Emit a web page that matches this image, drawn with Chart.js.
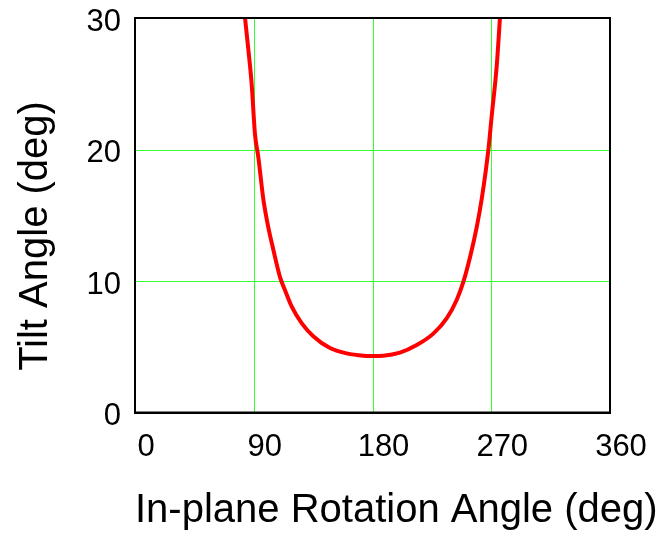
<!DOCTYPE html>
<html>
<head>
<meta charset="utf-8">
<script src="https://cdn.jsdelivr.net/npm/chart.js"></script>
<style>
  body { margin: 0; background: #fff; }
</style>
</head>
<body>
<canvas id="myChart" width="660" height="540"></canvas>
<script>
// in-plane rotation angle (deg)
const rotation = [83.4, 85.9, 88.4, 90.9, 93.5, 97.3, 101.0, 104.8, 109.9, 113.7, 118.8, 126.3, 135.1, 147.8, 160.4, 173.0, 180.0,
                  188.1, 200.8, 213.5, 226.1, 236.2, 243.8, 248.9, 254.0, 259.0, 262.8, 267.8, 270.3, 274.1, 276.6];
// tilt angle (deg)
const tilt = [30.0, 27.6, 25.0, 21.2, 19.4, 16.2, 14.1, 12.4, 10.3, 9.3, 8.05, 6.8, 5.8, 4.9, 4.5, 4.32, 4.3,
              4.32, 4.55, 5.13, 6.0, 7.16, 8.56, 9.95, 11.85, 14.1, 16.25, 19.96, 22.5, 26.3, 30.0];
const xTicks = [0, 90, 180, 270, 360];
const yTicks = [0, 10, 20, 30];

const xTitle = 'In-plane Rotation Angle (deg)';
const yTitle = 'Tilt Angle (deg)';

const points = rotation.map((r, i) => ({x: r, y: tilt[i]}));
const font = '"Liberation Sans", Arial, sans-serif';

// green grid, black frame round the plot and both axis titles
// (the scale title squeezes long text to the axis width, so draw them here)
const framePlugin = {
    id: 'frame',
    beforeDatasetsDraw(chart) {
        const {ctx, chartArea: a, scales: {x, y}} = chart;
        ctx.save();
        ctx.strokeStyle = '#33ff33';
        ctx.lineWidth = 1;
        ctx.beginPath();
        xTicks.slice(1, -1).forEach(v => {
            const px = Math.round(x.getPixelForValue(v)) + 0.5;
            ctx.moveTo(px, a.top);
            ctx.lineTo(px, a.bottom);
        });
        yTicks.slice(1, -1).forEach(v => {
            const py = Math.round(y.getPixelForValue(v)) + 0.5;
            ctx.moveTo(a.left, py);
            ctx.lineTo(a.right, py);
        });
        ctx.stroke();
        ctx.restore();
    },
    afterDraw(chart) {
        const {ctx, chartArea: a} = chart;
        ctx.save();
        ctx.strokeStyle = '#000';
        ctx.lineWidth = 2;
        ctx.strokeRect(a.left, a.top, a.right - a.left, a.bottom - a.top);

        ctx.fillStyle = '#000';
        ctx.font = '40px ' + font;
        ctx.textBaseline = 'alphabetic';
        ctx.textAlign = 'left';
        ctx.fillText(xTitle, a.left, 521.5);

        ctx.translate(47, 236);
        ctx.rotate(-Math.PI / 2);
        ctx.textAlign = 'center';
        ctx.fillText(yTitle, 0, 0);
        ctx.restore();
    }
};

const ctx = document.getElementById('myChart').getContext('2d');
const chart = new Chart(ctx, {
    type: 'scatter',
    data: {
        datasets: [{
            data: points,
            showLine: true,
            borderColor: '#ff0000',
            borderWidth: 4,
            pointRadius: 0,
            cubicInterpolationMode: 'monotone',
            clip: false
        }]
    },
    options: {
        responsive: false,
        animation: false,
        layout: { padding: {top: 18, right: 50, bottom: 0, left: 0} },
        plugins: {
            legend: { display: false },
            tooltip: { enabled: false }
        },
        scales: {
            x: {
                type: 'linear',
                min: 0,
                max: 360,
                afterBuildTicks: s => { s.ticks = xTicks.map(v => ({value: v})); },
                afterFit: s => { s.height = 127.5; },
                grid: { display: false },
                border: { color: '#000', width: 2 },
                ticks: {
                    color: '#000',
                    padding: 8,
                    labelOffset: 11,
                    font: { family: font, size: 31 }
                }
            },
            y: {
                type: 'linear',
                min: 0,
                max: 30,
                afterBuildTicks: s => { s.ticks = yTicks.map(v => ({value: v})); },
                afterFit: s => { s.width = 135; s.paddingTop = 0; s.paddingBottom = 0; },
                grid: { display: false },
                border: { color: '#000', width: 2 },
                ticks: {
                    color: '#000',
                    padding: 6,
                    labelOffset: 4,
                    font: { family: font, size: 31 }
                }
            }
        }
    },
    plugins: [framePlugin]
});
</script>
</body>
</html>
